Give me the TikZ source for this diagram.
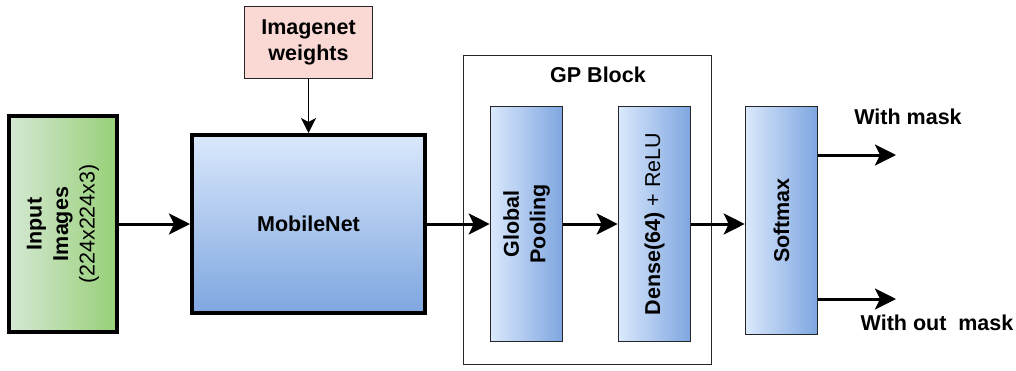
\documentclass[tikz,border=0pt]{standalone}
\usepackage{fontspec}
\setmainfont{Liberation Sans}
\usetikzlibrary{arrows.meta}
\definecolor{bluelight}{HTML}{DAE8FC}
\definecolor{bluedark}{HTML}{7EA6E0}
\definecolor{greenlight}{HTML}{D5E8D4}
\definecolor{greendark}{HTML}{97D077}
\definecolor{pinkfill}{HTML}{FAD9D5}
\tikzset{
  txt/.style={font=\fontsize{21.5}{26.5}\selectfont, align=center, inner sep=0pt},
  thickbox/.style={draw=black, line width=4pt, inner sep=0pt},
  thinbox/.style={draw=black!85, line width=1.6pt, inner sep=0pt},
  hbox/.style={thinbox, left color=bluelight, right color=bluedark, minimum width=72pt},
  mainarrow/.style={line width=3pt, -{Stealth[length=21pt,width=21pt,inset=5pt]}},
  smallarrow/.style={line width=1.5pt, -{Stealth[length=15pt,width=15pt,inset=4pt]}}
}
\begin{document}
\begin{tikzpicture}[x=1pt,y=-1pt]
\useasboundingbox (0,0) rectangle (1016,370);
% GP block frame
\node[draw=black!85, line width=1.6pt, minimum width=248pt, minimum height=309pt, inner sep=0pt] (gp) at (587.5,210) {};
\node[txt, font=\fontsize{21.5}{26.5}\selectfont\bfseries] (gplabel) at (598,75) {GP Block};
% boxes
\node[thickbox, left color=greenlight, right color=greendark, minimum width=108pt, minimum height=216pt] (in) at (63,224) {};
\node[txt, rotate=90] (intext) at (in.center) {\textbf{Input}\\\textbf{Images}\\(224x224x3)};
\node[thickbox, top color=bluelight, bottom color=bluedark, minimum width=233pt, minimum height=178pt] (mob) at (308.5,224) {};
\node[txt, font=\fontsize{21.5}{26.5}\selectfont\bfseries] (mobtext) at (mob.center) {MobileNet};
\node[thinbox, fill=pinkfill, minimum width=128pt, minimum height=72pt] (iw) at (308.5,42.5) {};
\node[txt, font=\fontsize{21.5}{26.5}\selectfont\bfseries] (iwtext) at (iw.center) {Imagenet\\weights};
\node[hbox, minimum height=235pt] (pool) at (526.5,224) {};
\node[txt, rotate=90, font=\fontsize{21.5}{26.5}\selectfont\bfseries] (pooltext) at (pool.center) {Global\\Pooling};
\node[hbox, minimum height=235pt] (dense) at (654.5,224) {};
\node[txt, rotate=90] (densetext) at (dense.center) {\textbf{Dense(64)} + ReLU};
\node[hbox, minimum height=228pt] (sm) at (781.5,220.5) {};
\node[txt, rotate=90, font=\fontsize{21.5}{26.5}\selectfont\bfseries] (smtext) at (sm.center) {Softmax};
% outputs
\coordinate (o1) at (896,155);
\coordinate (o2) at (896,299);
\node[txt, font=\fontsize{21.5}{26.5}\selectfont\bfseries] (l1) at (908,117) {With mask};
\node[txt, font=\fontsize{21.5}{26.5}\selectfont\bfseries] (l2) at (937,323) {With out\ \ mask};
% connectors
\draw[smallarrow] (iw.south) -- (mob.north);
\draw[mainarrow] (in.east) -- (mob.west);
\draw[mainarrow] (mob.east) -- (pool.west);
\draw[mainarrow] (pool.east) -- (dense.west);
\draw[mainarrow] (dense.east) -- (sm.west |- dense.east);
\draw[mainarrow] (sm.east |- o1) -- (o1);
\draw[mainarrow] (sm.east |- o2) -- (o2);
\end{tikzpicture}
\end{document}
